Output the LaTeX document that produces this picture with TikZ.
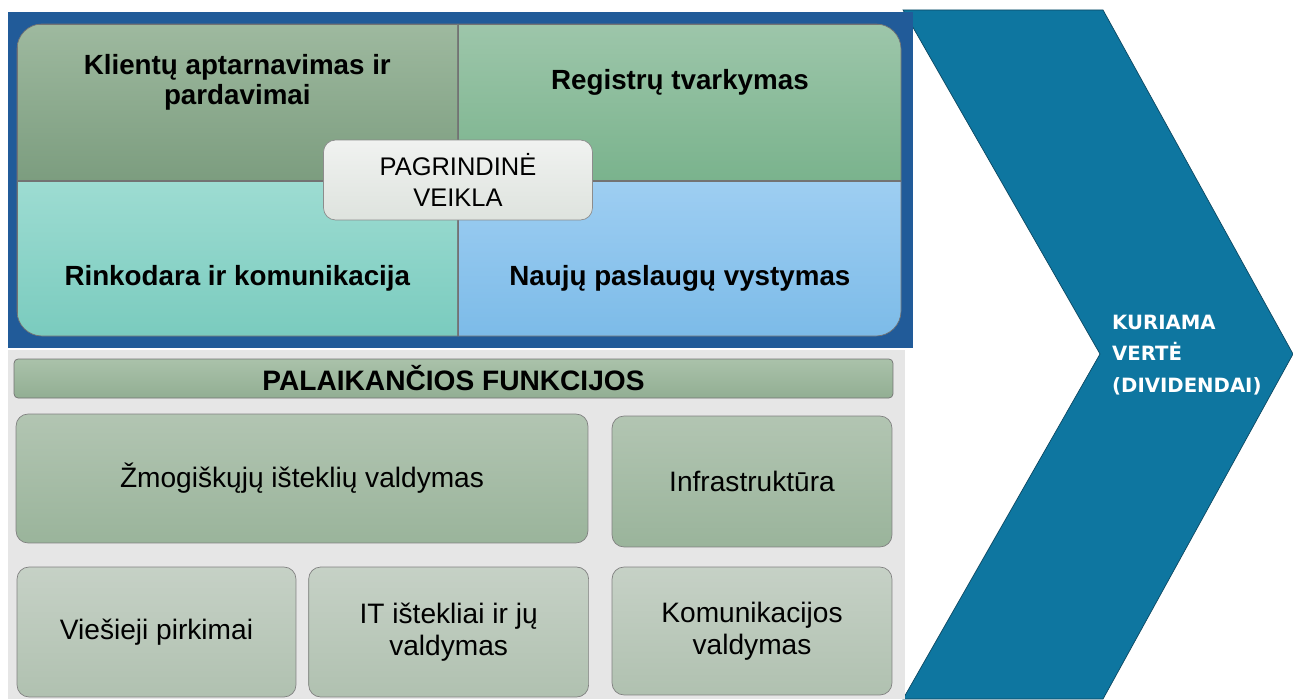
\documentclass[tikz,border=0pt]{standalone}
\usepackage{fontspec}
\setmainfont{Liberation Sans}
\newfontfamily\chevfont{DejaVu Sans}
\usepackage{xcolor}
\usetikzlibrary{positioning,calc}
\definecolor{vkFrame}{RGB}{33,91,153}
\definecolor{vkChev}{RGB}{14,118,160}
\definecolor{vkChevEdge}{RGB}{12,72,98}
\definecolor{vkOliveTop}{RGB}{158,185,159}
\definecolor{vkOliveBot}{RGB}{124,157,127}
\definecolor{vkGreenTop}{RGB}{157,198,170}
\definecolor{vkGreenBot}{RGB}{122,179,141}
\definecolor{vkTealTop}{RGB}{157,220,210}
\definecolor{vkTealBot}{RGB}{122,203,190}
\definecolor{vkSkyTop}{RGB}{158,206,242}
\definecolor{vkSkyBot}{RGB}{124,187,232}
\definecolor{vkCoreTop}{RGB}{240,242,240}
\definecolor{vkCoreBot}{RGB}{222,227,222}
\definecolor{vkPanel}{RGB}{230,230,230}
\definecolor{vkHeadTop}{RGB}{170,194,170}
\definecolor{vkHeadBot}{RGB}{146,174,147}
\definecolor{vkFuncTop}{RGB}{178,197,178}
\definecolor{vkFuncBot}{RGB}{154,180,155}
\definecolor{vkLowTop}{RGB}{198,209,198}
\definecolor{vkLowBot}{RGB}{176,193,176}

\begin{document}
\begin{tikzpicture}[
    x=0.02cm, y=-0.02cm,
    quad/.style={rectangle, draw=black!55, thin, inner sep=0pt, minimum height=3.12cm},
    quadtext/.style={align=center, font={\bfseries\fontsize{15.8}{17.2}\selectfont}},
    func/.style={rectangle, rounded corners=0.24cm, draw=black!50, thin, align=center, minimum width=5.6cm, minimum height=2.6cm, font={\fontsize{16}{18}\selectfont}, top color=vkLowTop, bottom color=vkLowBot}
]
    \useasboundingbox (0,0) rectangle (1293,699);

    % value chevron
    \filldraw[fill=vkChev, draw=vkChevEdge, thin] (903,10) -- (1103,10) -- (1293,354) -- (1103,699) -- (903,699) -- (1100,354) -- cycle;
    \node[anchor=west, align=left, text=white, font={\chevfont\bfseries\fontsize{11.2}{17.8}\selectfont}] (value) at (1106,355) {KURIAMA\\VERTĖ\\(DIVIDENDAI)};

    % core activities
    \fill[vkFrame] (8,12) rectangle (913,348);
    \begin{scope}
        \clip[rounded corners=0.5cm] (17,24) rectangle (901,336);
        \node[quad, anchor=north west, minimum width=8.8cm, top color=vkOliveTop, bottom color=vkOliveBot] (q1) at (17,24) {};
        \node[quad, right=0pt of q1, minimum width=8.88cm, top color=vkGreenTop, bottom color=vkGreenBot] (q2) {};
        \node[quad, below=0pt of q1, minimum width=8.8cm, top color=vkTealTop, bottom color=vkTealBot] (q3) {};
        \node[quad, below=0pt of q2, minimum width=8.88cm, top color=vkSkyTop, bottom color=vkSkyBot] (q4) {};
    \end{scope}
    \draw[black!55, thin, rounded corners=0.5cm] (17,24) rectangle (901,336);

    \node[quadtext] (q1txt) at ([yshift=0.4cm]q1.center) {Klientų aptarnavimas ir\\pardavimai};
    \node[quadtext] (q2txt) at ([yshift=0.4cm]q2.center) {Registrų tvarkymas};
    \node[quadtext] (q3txt) at ([yshift=-0.38cm]q3.center) {Rinkodara ir komunikacija};
    \node[quadtext] (q4txt) at ([yshift=-0.38cm]q4.center) {Naujų paslaugų vystymas};

    \node[rectangle, rounded corners=0.24cm, draw=black!45, top color=vkCoreTop, bottom color=vkCoreBot, minimum width=5.38cm, minimum height=1.6cm, align=center, font={\fontsize{14.5}{18}\selectfont}] (core) at (458,180) {PAGRINDINĖ\\VEIKLA};

    % support functions
    \fill[vkPanel] (8,350) rectangle (905,699);
    \node[rectangle, rounded corners=0.08cm, draw=black!55, top color=vkHeadTop, bottom color=vkHeadBot, minimum width=17.58cm, minimum height=0.78cm, font={\bfseries\fontsize{16}{18}\selectfont}] (support) at (453.5,378.5) {PALAIKANČIOS FUNKCIJOS};

    \node[func, minimum width=11.44cm, minimum height=2.58cm, top color=vkFuncTop, bottom color=vkFuncBot] (hr) at (302,478.5) {Žmogiškųjų išteklių valdymas};
    \node[func, minimum height=2.62cm, top color=vkFuncTop, bottom color=vkFuncBot] (infra) at (752,481.5) {Infrastruktūra};
    \node[func, minimum width=5.58cm] (proc) at (156.5,632) {Viešieji pirkimai};
    \node[func, right=0.24cm of proc] (itres) {IT ištekliai ir jų\\valdymas};
    \node[func, minimum height=2.56cm] (comm) at (752,631) {Komunikacijos\\valdymas};
\end{tikzpicture}
\end{document}
